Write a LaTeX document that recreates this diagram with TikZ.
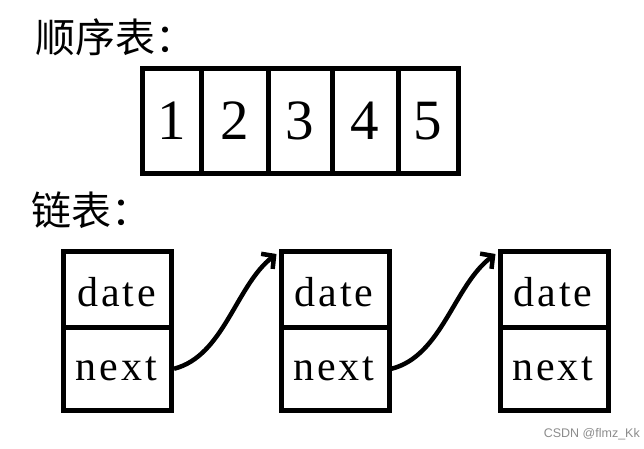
\documentclass[tikz,border=0pt]{standalone}
\usepackage{fontspec}
\setmainfont{Liberation Serif}
\newfontfamily\cjk{Noto Sans CJK SC}
\newfontfamily\boxfont[LetterSpace=7]{Liberation Serif}
\newfontfamily\wmfont{Liberation Sans}
\usetikzlibrary{arrows.meta,calc}
\tikzset{
  cell/.style={draw=black, line width=5pt, minimum width=#1, minimum height=105pt, inner sep=0pt,
    font=\fontsize{57}{60}\selectfont},
  half/.style={draw=black, line width=5pt, minimum width=108pt, minimum height=#1, inner sep=0pt},
  lbl/.style={font=\boxfont\fontsize{42}{46}\selectfont, inner sep=0pt, anchor=base},
  title/.style={font=\cjk\fontsize{40}{44}\selectfont, inner sep=0pt, anchor=west},
  link/.style={line width=4.5pt, -{Straight Barb[length=9pt,width=19pt,line width=4.5pt]}},
}
\begin{document}
\begin{tikzpicture}[x=1pt,y=-1pt]
\useasboundingbox (0,0) rectangle (644,448);
\node[title] (t1) at (35,37) {顺序表：};
\node[title] (t2) at (31,210) {链表：};
% sequential table
\node[cell=59pt]  (c1) at (171.5,121) {1};
\node[cell=67pt]  (c2) at (234.5,121) {2};
\node[cell=64pt]  (c3) at (300,121) {3};
\node[cell=66pt]  (c4) at (365,121) {4};
\node[cell=60pt]  (c5) at (428,121) {5};
% linked list
\foreach \i/\x in {1/117.5,2/335,3/554}{
  \node[half=75.5pt] (d\i) at (\x,289.25) {};
  \node[half=83.5pt] (n\i) at (\x,368.75) {};
  \node[lbl] (dl\i) at (\x-1,306) {date};
  \node[lbl] (nl\i) at (\x-1,380) {next};
}
\draw[link] (n1.east) .. controls (224,356) and (236,285) .. ($(d2.north west)+(-2,5)$);
\draw[link] (n2.east) .. controls (442,356) and (454,285) .. ($(d3.north west)+(-2,5)$);
\node[font=\wmfont\fontsize{12.5}{13}\selectfont, text=black!45, anchor=base east, inner sep=0pt] (wm) at (640,437) {CSDN @flmz\_Kk};
\end{tikzpicture}
\end{document}
